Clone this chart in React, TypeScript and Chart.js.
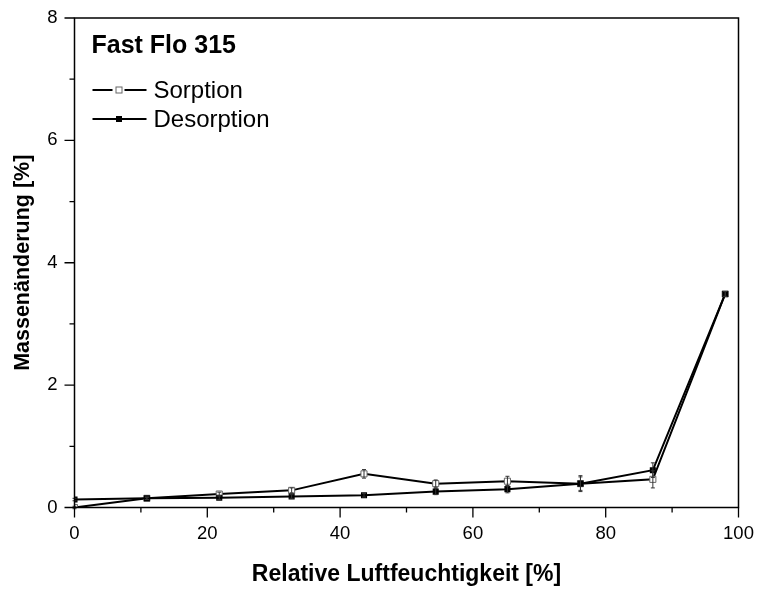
import React, { useEffect, useRef } from "react";
import { Chart, registerables } from "chart.js";

Chart.register(...registerables);

const humidity = [0, 10.9, 21.8, 32.7, 43.6, 54.4, 65.2, 76.2, 87.1, 98];
const sorption = [0.0, 0.15, 0.22, 0.28, 0.55, 0.39, 0.43, 0.39, 0.46, 3.49];
const sorptionErr = [0.02, 0.02, 0.03, 0.04, 0.07, 0.06, 0.08, 0.13, 0.14, 0.04];
const desorption = [0.13, 0.15, 0.16, 0.18, 0.2, 0.26, 0.3, 0.39, 0.61, 3.49];
const desorptionErr = [0.02, 0.02, 0.03, 0.03, 0.03, 0.05, 0.06, 0.11, 0.12, 0.04];
const xMajorTicks = [0, 20, 40, 60, 80, 100];
const xMinorTicks = [10, 30, 50, 70, 90];
const yMajorTicks = [0, 2, 4, 6, 8];
const yMinorTicks = [1, 3, 5, 7];
const sampleName = "Fast Flo 315";
const sorptionLabel = "Sorption";
const desorptionLabel = "Desorption";
const xTitle = "Relative Luftfeuchtigkeit [%]";
const yTitle = "Massenänderung [%]";

const FONT = "'Liberation Sans', Arial, Helvetica, sans-serif";

export default function App() {
  const ref = useRef<HTMLCanvasElement | null>(null);

  useEffect(() => {
    const canvas = ref.current;
    if (!canvas) return;

    const decor = {
      id: "decor",
      afterDatasetsDraw(chart: any) {
        const ctx = chart.ctx;
        const xs = chart.scales.x;
        const ys = chart.scales.y;
        ctx.save();
        ctx.strokeStyle = "#333";
        ctx.lineWidth = 1;
        const drawErr = (vals: number[], errs: number[]) => {
          vals.forEach((v, i) => {
            const px = xs.getPixelForValue(humidity[i]);
            const y1 = ys.getPixelForValue(v - errs[i]);
            const y2 = ys.getPixelForValue(v + errs[i]);
            ctx.beginPath();
            ctx.moveTo(px, y1);
            ctx.lineTo(px, y2);
            ctx.moveTo(px - 2, y1);
            ctx.lineTo(px + 2, y1);
            ctx.moveTo(px - 2, y2);
            ctx.lineTo(px + 2, y2);
            ctx.stroke();
          });
        };
        drawErr(sorption, sorptionErr);
        drawErr(desorption, desorptionErr);
        ctx.restore();
      },
      afterDraw(chart: any) {
        const ctx = chart.ctx;
        const a = chart.chartArea;
        const xs = chart.scales.x;
        const ys = chart.scales.y;
        ctx.save();
        ctx.strokeStyle = "#000";
        ctx.lineWidth = 1.5;
        ctx.strokeRect(a.left, a.top, a.right - a.left, a.bottom - a.top);
        ctx.lineWidth = 1.3;
        ctx.beginPath();
        xMajorTicks.forEach((t) => {
          const p = xs.getPixelForValue(t);
          ctx.moveTo(p, a.bottom);
          ctx.lineTo(p, a.bottom + 10);
        });
        xMinorTicks.forEach((t) => {
          const p = xs.getPixelForValue(t);
          ctx.moveTo(p, a.bottom);
          ctx.lineTo(p, a.bottom + 5);
        });
        yMajorTicks.forEach((t) => {
          const p = ys.getPixelForValue(t);
          ctx.moveTo(a.left, p);
          ctx.lineTo(a.left - 10, p);
        });
        yMinorTicks.forEach((t) => {
          const p = ys.getPixelForValue(t);
          ctx.moveTo(a.left, p);
          ctx.lineTo(a.left - 5, p);
        });
        ctx.stroke();

        // sample name inside plot
        ctx.fillStyle = "#000";
        ctx.textBaseline = "alphabetic";
        ctx.textAlign = "left";
        ctx.font = `bold 25px ${FONT}`;
        ctx.fillText(sampleName, a.left + 17, a.top + 35);

        // legend
        ctx.font = `24px ${FONT}`;
        ctx.textBaseline = "middle";
        const lx = a.left + 18;
        const ly1 = a.top + 72;
        const ly2 = a.top + 101;
        ctx.lineWidth = 2;
        ctx.strokeStyle = "#000";
        ctx.beginPath();
        ctx.moveTo(lx, ly1);
        ctx.lineTo(lx + 20, ly1);
        ctx.moveTo(lx + 32, ly1);
        ctx.lineTo(lx + 54, ly1);
        ctx.moveTo(lx, ly2);
        ctx.lineTo(lx + 54, ly2);
        ctx.stroke();
        ctx.lineWidth = 1;
        ctx.strokeStyle = "#666";
        ctx.fillStyle = "#fff";
        ctx.fillRect(lx + 23.5, ly1 - 3, 6, 6);
        ctx.strokeRect(lx + 23.5, ly1 - 3, 6, 6);
        ctx.fillStyle = "#000";
        ctx.fillRect(lx + 23.5, ly2 - 3, 6, 6);
        ctx.fillText(sorptionLabel, lx + 61, ly1 + 1);
        ctx.fillText(desorptionLabel, lx + 61, ly2 + 1);
        ctx.restore();
      },
    };

    const chart = new Chart(canvas, {
      type: "line",
      data: {
        datasets: [
          {
            label: desorptionLabel,
            data: humidity.map((x, i) => ({ x, y: desorption[i] })),
            borderColor: "#000",
            borderWidth: 2,
            pointStyle: "rect",
            pointRadius: 4.3,
            pointBackgroundColor: "#000",
            pointBorderColor: "#000",
            pointBorderWidth: 0,
            tension: 0,
            order: 0,
          },
          {
            label: sorptionLabel,
            data: humidity.map((x, i) => ({ x, y: sorption[i] })),
            borderColor: "#000",
            borderWidth: 2,
            pointStyle: "rect",
            pointRadius: 4.3,
            pointBackgroundColor: "#fff",
            pointBorderColor: "#666",
            pointBorderWidth: 1,
            tension: 0,
            order: 1,
          },
        ],
      },
      options: {
        responsive: false,
        animation: false,
        events: [],
        layout: { padding: { top: 18, right: 18.5, left: 0, bottom: 0 } },
        plugins: {
          legend: { display: false },
          tooltip: { enabled: false },
        },
        scales: {
          x: {
            type: "linear",
            min: 0,
            max: 100,
            grid: { display: false, drawTicks: false },
            border: { display: false },
            ticks: {
              stepSize: 20,
              padding: 15,
              color: "#000",
              font: { family: FONT, size: 18.5 },
              maxRotation: 0,
            },
            title: {
              display: true,
              text: xTitle,
              color: "#000",
              font: { family: FONT, size: 23, weight: "bold" },
              padding: { top: 0, bottom: 2 },
            },
            afterFit(scale: any) {
              scale.height = 82.5;
              scale.paddingLeft = 0;
              scale.paddingRight = 0;
            },
          },
          y: {
            type: "linear",
            min: 0,
            max: 8,
            grid: { display: false, drawTicks: false },
            border: { display: false },
            ticks: {
              stepSize: 2,
              padding: 17,
              color: "#000",
              font: { family: FONT, size: 18.5 },
            },
            title: {
              display: true,
              text: yTitle,
              color: "#000",
              font: { family: FONT, size: 21.5, weight: "bold" },
              padding: { top: 10, bottom: 0 },
            },
            afterFit(scale: any) {
              scale.width = 74.5;
              scale.paddingTop = 0;
              scale.paddingBottom = 0;
            },
          },
        },
      },
      plugins: [decor],
    });

    return () => chart.destroy();
  }, []);

  return (
    <div style={{ position: "fixed", left: 0, top: 0, width: 757, height: 590, background: "#fff" }}>
      <canvas ref={ref} width={757} height={590} style={{ display: "block" }} />
    </div>
  );
}
